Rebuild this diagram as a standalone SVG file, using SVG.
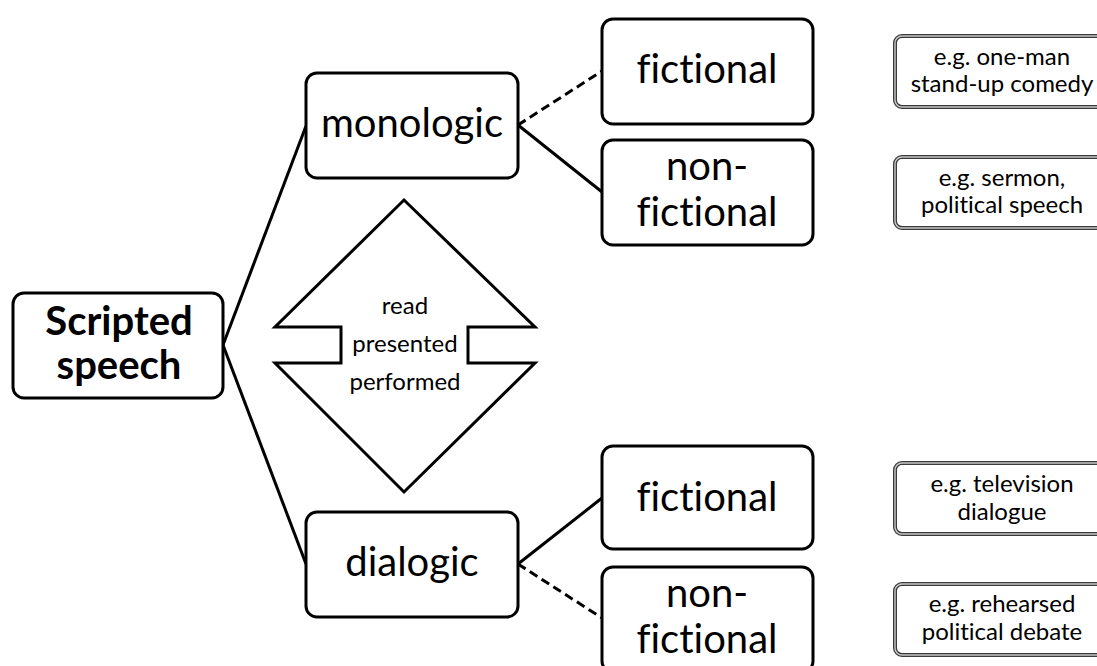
<svg xmlns="http://www.w3.org/2000/svg" width="1097" height="666" viewBox="0 0 1097 666">
  <style>
    .box { fill: #ffffff; stroke: #000000; stroke-width: 3; }
    .lbl { font-family: Lato, "Liberation Sans", sans-serif; fill: #000000; text-anchor: middle; font-variant-ligatures: none; }
    .big { font-size: 40px; }
    .bold { font-size: 40px; font-weight: bold; }
    .small { font-size: 24px; }
    .link { fill: none; stroke: #000000; stroke-width: 3; }
    .dash { stroke-dasharray: 9 5; }
    .ex-outer { fill: #ffffff; stroke: #3a3a3a; stroke-width: 4; }
    .ex-inner { fill: none; stroke: #c8c8c8; stroke-width: 1.4; }
  </style>

  <rect width="1097" height="666" fill="#ffffff"/>

  <!-- connectors -->
  <g id="connectors">
    <line class="link" x1="223" y1="345" x2="306" y2="126"/>
    <line class="link" x1="223" y1="345" x2="306" y2="564"/>
    <line class="link dash" x1="518" y1="125" x2="602" y2="71"/>
    <line class="link" x1="518" y1="125" x2="602" y2="192"/>
    <line class="link" x1="518" y1="564" x2="602" y2="498"/>
    <line class="link dash" x1="518" y1="564" x2="602" y2="618"/>
  </g>

  <g id="scripted-speech">
    <rect class="box" x="13" y="293" width="210" height="105" rx="11"/>
    <text class="lbl bold" x="119" y="335">Scripted</text>
    <text class="lbl bold" x="119" y="379">speech</text>
  </g>

  <g id="monologic">
    <rect class="box" x="306" y="73" width="212" height="105" rx="11"/>
    <text class="lbl big" x="412" y="137">monologic</text>
  </g>

  <g id="dialogic">
    <rect class="box" x="306" y="512" width="212" height="105" rx="11"/>
    <text class="lbl big" x="412" y="576">dialogic</text>
  </g>

  <g id="mono-fictional">
    <rect class="box" x="602" y="19" width="211" height="105" rx="11"/>
    <text class="lbl big" x="707" y="83">fictional</text>
  </g>

  <g id="mono-nonfictional">
    <rect class="box" x="602" y="140" width="211" height="105" rx="11"/>
    <text class="lbl big" x="707" y="180">non-</text>
    <text class="lbl big" x="707" y="226">fictional</text>
  </g>

  <g id="dia-fictional">
    <rect class="box" x="602" y="446" width="211" height="103" rx="11"/>
    <text class="lbl big" x="707" y="511">fictional</text>
  </g>

  <g id="dia-nonfictional">
    <rect class="box" x="602" y="567" width="211" height="105" rx="11"/>
    <text class="lbl big" x="707" y="607">non-</text>
    <text class="lbl big" x="707" y="653">fictional</text>
  </g>

  <!-- up/down double arrow -->
  <g id="modes">
    <polygon class="box" points="404,200 535,327 468,327 468,363 535,363 404,492 275,363 341,363 341,327 275,327"/>
    <text class="lbl small" x="405" y="314">read</text>
    <text class="lbl small" x="405" y="352">presented</text>
    <text class="lbl small" x="405" y="390">performed</text>
  </g>

  <g id="ex-standup">
    <rect class="ex-outer" x="895" y="36" width="220" height="71" rx="7"/>
    <rect class="ex-inner" x="895" y="36" width="220" height="71" rx="7"/>
    <text class="lbl small" x="1002" y="65">e.g. one-man</text>
    <text class="lbl small" x="1002" y="92">stand-up comedy</text>
  </g>

  <g id="ex-sermon">
    <rect class="ex-outer" x="895" y="157" width="220" height="71" rx="7"/>
    <rect class="ex-inner" x="895" y="157" width="220" height="71" rx="7"/>
    <text class="lbl small" x="1002" y="186">e.g. sermon,</text>
    <text class="lbl small" x="1002" y="213">political speech</text>
  </g>

  <g id="ex-television">
    <rect class="ex-outer" x="895" y="463" width="220" height="71" rx="7"/>
    <rect class="ex-inner" x="895" y="463" width="220" height="71" rx="7"/>
    <text class="lbl small" x="1002" y="492">e.g. television</text>
    <text class="lbl small" x="1002" y="520">dialogue</text>
  </g>

  <g id="ex-debate">
    <rect class="ex-outer" x="895" y="584" width="220" height="71" rx="7"/>
    <rect class="ex-inner" x="895" y="584" width="220" height="71" rx="7"/>
    <text class="lbl small" x="1002" y="612">e.g. rehearsed</text>
    <text class="lbl small" x="1002" y="640">political debate</text>
  </g>
</svg>
